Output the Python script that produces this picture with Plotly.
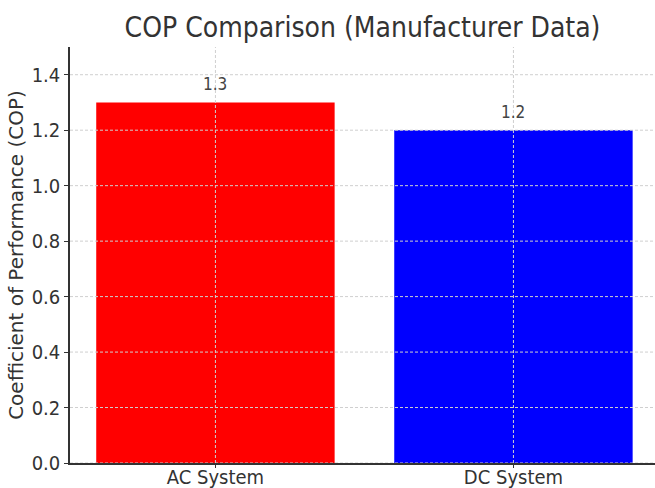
import plotly.graph_objects as go

categories = ["AC System", "DC System"]
cop_values = [1.3, 1.2]
bar_colors = ["#ff0000", "#0000ff"]
y_ticks = [0.0, 0.2, 0.4, 0.6, 0.8, 1.0, 1.2, 1.4]

COND = "DejaVu Sans Condensed, DejaVu Sans, sans-serif"
TEXT = "#333333"
GRID = "#cfcfcf"

fig = go.Figure()
fig.add_trace(go.Bar(
    x=categories, y=cop_values, marker=dict(color=bar_colors, line=dict(width=0)),
    width=0.8, showlegend=False, hoverinfo="skip"))

# value labels
for c, v in zip(categories, cop_values):
    fig.add_annotation(x=c, y=v, text=f"{v}", showarrow=False, yanchor="bottom",
                       yshift=6, font=dict(family=COND, size=17, color="#444444"))

# grid drawn over bars (dashed)
shapes = []
for t in y_ticks:
    shapes.append(dict(type="line", xref="paper", x0=0, x1=1, yref="y", y0=t, y1=t,
                       line=dict(color=GRID, width=1, dash="3px,2px"), layer="above"))
for c in categories:
    shapes.append(dict(type="line", xref="x", x0=c, x1=c, yref="paper", y0=0, y1=1,
                       line=dict(color=GRID, width=1, dash="3px,2px"), layer="above"))

fig.update_layout(
    width=655, height=488,
    margin=dict(l=70, r=0, t=47, b=25, autoexpand=False),
    paper_bgcolor="white", plot_bgcolor="white",
    shapes=shapes,
    title=dict(text="COP Comparison (Manufacturer Data)", x=0.5, xref="paper",
               y=1 - 27 / 488, yref="container", yanchor="middle", xanchor="center",
               font=dict(family=COND, size=28, color=TEXT)),
    xaxis=dict(type="category", range=[-0.488, 1.475], showgrid=False, automargin=False,
               showline=True, linecolor=TEXT, linewidth=1.5,
               ticks="outside", ticklen=3, tickcolor=TEXT, tickwidth=1.2,
               ticklabelstandoff=-8,
               tickfont=dict(family=COND, size=20, color=TEXT), zeroline=False),
    yaxis=dict(range=[0, 1.5], tickvals=y_ticks, ticktext=[f"{t:.1f}" for t in y_ticks],
               showgrid=False, showline=True, linecolor=TEXT, linewidth=1.5, automargin=False,
               ticks="outside", ticklen=4, tickcolor=TEXT, tickwidth=1.2,
               tickfont=dict(family=COND, size=20, color=TEXT), zeroline=False,
               title=dict(text="Coefficient of Performance (COP)", standoff=3,
                          font=dict(family="DejaVu Sans, sans-serif", size=20, color=TEXT))),
)

fig.write_html("out.html", config={"displayModeBar": False},
               post_script="document.body.style.margin='0';")
